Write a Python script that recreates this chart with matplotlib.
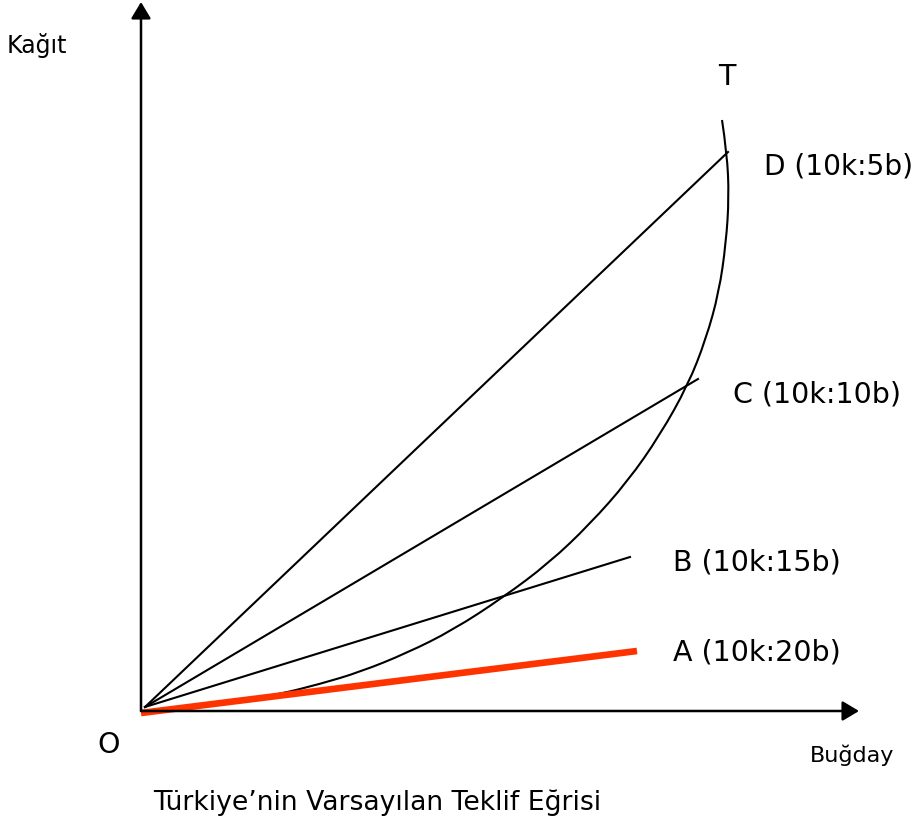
import numpy as np
import matplotlib.pyplot as plt
from matplotlib.path import Path
from matplotlib.patches import PathPatch

# price lines (ray end points), units of the diagram
ray_names = ['A (10k:20b)', 'B (10k:15b)', 'C (10k:10b)', 'D (10k:5b)']
ray_x = [49.6, 48.9, 55.7, 58.7]
ray_y = [6.0, 15.4, 33.2, 55.9]

# offer curve T
curve_x = [0.1, 4.9, 9.9, 13.9, 17.9, 21.9, 26.6, 31.2, 36.2, 40.8, 44.9,
           48.7, 51.9, 54.7, 56.5, 57.8, 58.5, 58.8, 58.6, 58.1]
curve_y = [-0.1, 0.35, 1.0, 1.7, 2.7, 3.9, 5.8, 8.1, 11.35, 14.8, 18.7,
           23.0, 27.6, 32.6, 37.2, 41.9, 46.8, 51.4, 55.8, 59.1]

x_axis_len = 71.8
y_axis_len = 70.9

fig = plt.figure(figsize=(9.13, 8.29), dpi=100)
ax = fig.add_axes([0, 0, 1, 1])
ax.set_xlim(-14.1, 77.2)
ax.set_ylim(-11.7, 71.2)
ax.axis('off')

arrow = dict(arrowstyle='-|>,head_length=0.5,head_width=0.3', lw=1.8,
             color='black', mutation_scale=20, shrinkA=0, shrinkB=0)
ax.annotate('', xy=(0, y_axis_len), xytext=(0, 0), arrowprops=arrow)
ax.annotate('', xy=(x_axis_len, 0), xytext=(0, 0), arrowprops=arrow)

# rays from origin
for i in range(1, 4):
    ax.plot([0.4, ray_x[i]], [0.4, ray_y[i]], color='black', lw=1.5)
ax.plot([0, ray_x[0]], [-0.2, ray_y[0]], color='#ff3300', lw=4.8,
        solid_capstyle='butt')

# offer curve through the read points, smoothed with quadratic bezier pieces
pts = np.column_stack([curve_x, curve_y])
verts = [pts[0]]
codes = [Path.MOVETO]
for i in range(1, len(pts) - 2):
    verts += [pts[i], (pts[i] + pts[i + 1]) / 2]
    codes += [Path.CURVE3, Path.CURVE3]
verts += [pts[-2], pts[-1]]
codes += [Path.CURVE3, Path.CURVE3]
ax.add_patch(PathPatch(Path(verts, codes), fill=False, edgecolor='black',
                       lw=1.5))

fs = 20.5
ax.text(53.2, 5.9, ray_names[0], fontsize=fs, va='center')
ax.text(53.2, 14.9, ray_names[1], fontsize=fs, va='center')
ax.text(59.2, 31.7, ray_names[2], fontsize=fs, va='center')
ax.text(62.3, 54.5, ray_names[3], fontsize=20.2, va='center')
ax.text(58.6, 63.5, 'T', fontsize=fs, ha='center', va='center')
ax.text(-3.2, -3.3, 'O', fontsize=fs, ha='center', va='center')
ax.text(-13.4, 66.7, 'Kağıt', fontsize=17, va='center')
ax.text(66.9, -4.3, 'Buğday', fontsize=16, va='center')
ax.text(1.2, -9.1, 'Türkiye’nin Varsayılan Teklif Eğrisi', fontsize=19.2,
        va='center')

plt.savefig('out.png')
